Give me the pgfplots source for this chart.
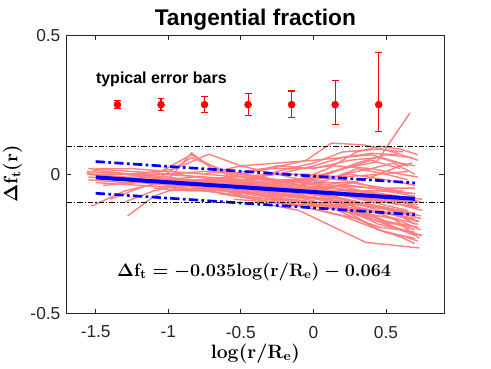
\RequirePackage{fix-cm}
\documentclass[border=0pt]{standalone}
\usepackage[no-math]{fontspec}
\setmainfont{Liberation Sans}
\usepackage{pgfplots}
\usepackage{pgfplotstable}
\pgfplotsset{compat=1.18}
\definecolor{axgray}{RGB}{38,38,38}
\definecolor{pinkline}{RGB}{255,128,128}
\pgfplotstableread{
x y ep em
-1.35 0.25 0.014 0.014
-1.05 0.25 0.021 0.021
-0.75 0.25 0.029 0.029
-0.45 0.25 0.039 0.039
-0.15 0.25 0.049 0.047
0.15 0.25 0.086 0.071
0.45 0.25 0.186 0.096
}\errtab
\pgfplotsset{pk/.style={pinkline, line width=1.05pt}}
\begin{document}
\boldmath
\begin{tikzpicture}
\path[use as bounding box] (0,0) rectangle (368.25pt,276pt);
\begin{axis}[
  name=ax,
  at={(50pt,41pt)}, anchor=south west,
  width=283pt, height=208.7pt, scale only axis,
  xmin=-1.7, xmax=0.9, ymin=-0.5, ymax=0.5,
  xtick={-1.5,-1,-0.5,0,0.5}, xticklabels={-1.5,-1,-0.5,0,0.5},
  ytick={-0.5,0,0.5}, yticklabels={-0.5,0,0.5},
  tick align=inside, major tick length=3.5pt,
  axis line style={axgray, line width=0.5pt},
  tick style={axgray, line width=0.5pt},
  ticklabel style={font=\fontsize{13}{15}\selectfont, text=axgray},
  xticklabel style={yshift=-6pt},
  yticklabel style={xshift=-1.2pt},
  every axis title shift=0pt,
  title={Tangential fraction},
  title style={font=\fontsize{17}{20}\selectfont\bfseries, at={(axis description cs:0.5,1)}, anchor=base, yshift=7.5pt, inner sep=0pt},
]
% individual profiles
\addplot[pk] coordinates {(-1.56,0.01) (-1.3,0.0) (-1.0,-0.02) (-0.7,-0.03) (-0.4,-0.04) (-0.1,-0.05) (0.2,-0.07) (0.5,-0.09) (0.72,-0.1)};
\addplot[pk] coordinates {(-1.55,0.02) (-1.25,0.01) (-0.95,0.0) (-0.65,-0.02) (-0.35,-0.03) (-0.05,-0.02) (0.25,-0.04) (0.55,-0.06) (0.7,-0.07)};
\addplot[pk] coordinates {(-1.55,-0.01) (-1.3,-0.02) (-1.05,-0.03) (-0.8,-0.04) (-0.55,-0.06) (-0.3,-0.07) (-0.05,-0.09) (0.2,-0.12) (0.45,-0.16) (0.7,-0.2)};
\addplot[pk] coordinates {(-1.53,-0.115) (-1.3,-0.06) (-1.05,-0.03) (-0.8,-0.02) (-0.55,-0.03) (-0.3,-0.05) (-0.05,-0.08) (0.2,-0.1) (0.45,-0.12) (0.68,-0.15)};
\addplot[pk] coordinates {(-1.28,-0.15) (-1.1,-0.08) (-0.9,-0.04) (-0.7,-0.03) (-0.5,-0.04) (-0.3,-0.06) (-0.1,-0.07) (0.1,-0.1) (0.3,-0.14) (0.5,-0.18) (0.7,-0.22)};
\addplot[pk] coordinates {(-1.4,-0.09) (-1.2,-0.05) (-1.0,-0.02) (-0.84,0.077) (-0.7,0.02) (-0.5,0.0) (-0.3,-0.02) (-0.1,-0.04) (0.1,-0.02) (0.3,0.02) (0.5,0.0) (0.65,-0.02)};
\addplot[pk] coordinates {(-1.5,0.0) (-1.2,0.0) (-0.95,0.02) (-0.72,0.072) (-0.5,0.03) (-0.25,0.0) (0.0,-0.03) (0.25,-0.05) (0.5,-0.08) (0.72,-0.12)};
\addplot[pk] coordinates {(-1.55,0.0) (-1.3,-0.01) (-1.05,-0.01) (-0.84,0.06) (-0.6,0.01) (-0.35,-0.01) (-0.1,-0.04) (0.15,-0.07) (0.4,-0.1) (0.65,-0.13)};
\addplot[pk] coordinates {(-1.0,-0.02) (-0.75,-0.03) (-0.5,-0.04) (-0.25,-0.03) (0.0,-0.01) (0.2,0.02) (0.435,0.044) (0.665,0.22)};
\addplot[pk] coordinates {(-0.9,-0.03) (-0.6,-0.01) (-0.3,0.02) (-0.05,0.05) (0.125,0.112) (0.35,0.105) (0.55,0.08) (0.72,0.05)};
\addplot[pk] coordinates {(-0.8,-0.04) (-0.5,-0.03) (-0.25,0.01) (0.0,0.04) (0.2,0.08) (0.45,0.09) (0.62,0.08)};
\addplot[pk] coordinates {(-1.0,-0.03) (-0.7,-0.04) (-0.4,-0.05) (-0.1,-0.03) (0.15,0.01) (0.4,0.05) (0.6,0.02)};
\addplot[pk] coordinates {(-1.2,-0.04) (-0.9,-0.05) (-0.6,-0.06) (-0.3,-0.08) (0.0,-0.1) (0.25,-0.14) (0.45,-0.2) (0.6,-0.22) (0.72,-0.24)};
\addplot[pk] coordinates {(-0.4,-0.1) (-0.1,-0.13) (0.1,-0.18) (0.36,-0.245) (0.73,-0.265)};
\addplot[pk] coordinates {(-1.5,-0.03) (-1.2,-0.04) (-0.9,-0.05) (-0.6,-0.07) (-0.3,-0.1) (-0.05,-0.11) (0.2,-0.13) (0.45,-0.17) (0.7,-0.19)};
\addplot[pk] coordinates {(-1.45,0.01) (-1.15,-0.01) (-0.85,-0.02) (-0.55,-0.03) (-0.25,-0.04) (0.05,-0.06) (0.35,-0.09) (0.6,-0.11) (0.75,-0.13)};
\addplot[pk] coordinates {(-1.56,0.005) (-1.3,-0.02) (-1.0,-0.04) (-0.7,-0.05) (-0.4,-0.06) (-0.1,-0.08) (0.2,-0.09) (0.5,-0.12) (0.74,-0.15)};
\addplot[pk] coordinates {(-1.3,-0.1) (-1.1,-0.06) (-0.85,-0.03) (-0.6,-0.02) (-0.35,-0.02) (-0.1,-0.03) (0.15,-0.04) (0.4,-0.05) (0.62,-0.06)};
\addplot[pk] coordinates {(-1.0,0.0) (-0.75,0.01) (-0.5,0.0) (-0.25,-0.02) (0.0,-0.02) (0.25,0.0) (0.5,-0.02) (0.7,-0.04)};
\addplot[pk] coordinates {(-0.7,-0.05) (-0.45,-0.08) (-0.2,-0.1) (0.05,-0.13) (0.3,-0.16) (0.5,-0.21) (0.7,-0.23)};
\addplot[pk] coordinates {(-0.6,-0.06) (-0.35,-0.08) (-0.1,-0.1) (0.15,-0.12) (0.4,-0.15) (0.6,-0.2) (0.75,-0.22)};
\addplot[pk] coordinates {(-1.2,-0.01) (-0.95,-0.02) (-0.7,-0.02) (-0.45,-0.03) (-0.2,-0.05) (0.05,-0.06) (0.3,-0.07) (0.55,-0.08) (0.75,-0.09)};
\addplot[pk] coordinates {(-0.5,-0.02) (-0.25,0.0) (0.0,0.03) (0.2,0.06) (0.4,0.07) (0.6,0.04) (0.7,0.03)};
\addplot[pk] coordinates {(-0.3,-0.04) (-0.1,-0.02) (0.1,0.0) (0.3,0.04) (0.5,0.07) (0.68,0.06)};
\addplot[pk] coordinates {(-0.2,-0.06) (0.0,-0.05) (0.2,-0.04) (0.4,-0.01) (0.6,0.03) (0.68,0.04)};
\addplot[pk] coordinates {(-1.4,-0.02) (-1.1,-0.02) (-0.8,-0.03) (-0.5,-0.05) (-0.2,-0.07) (0.1,-0.09) (0.4,-0.11) (0.7,-0.14)};
\addplot[pk] coordinates {(-1.35,0.0) (-1.05,0.0) (-0.75,-0.01) (-0.45,-0.02) (-0.15,-0.04) (0.15,-0.06) (0.45,-0.06) (0.7,-0.07)};
\addplot[pk] coordinates {(-0.9,-0.05) (-0.6,-0.07) (-0.3,-0.09) (0.0,-0.1) (0.25,-0.12) (0.5,-0.14) (0.72,-0.17)};
\addplot[pk] coordinates {(-0.45,-0.07) (-0.2,-0.08) (0.05,-0.09) (0.3,-0.11) (0.55,-0.13) (0.74,-0.16)};
\addplot[pk] coordinates {(-1.5,0.02) (-1.25,0.02) (-1.0,0.01) (-0.75,0.0) (-0.5,-0.01) (-0.25,-0.02) (0.0,-0.03) (0.25,-0.03) (0.5,-0.05) (0.7,-0.05)};
\addplot[pk] coordinates {(-0.6,0.0) (-0.35,0.02) (-0.1,0.02) (0.15,0.03) (0.4,0.02) (0.6,0.0) (0.72,-0.01)};
\addplot[pk] coordinates {(-0.35,-0.05) (-0.1,-0.04) (0.15,-0.05) (0.4,-0.08) (0.6,-0.1) (0.72,-0.11)};
\addplot[pk] coordinates {(0.0,-0.08) (0.2,-0.11) (0.4,-0.16) (0.55,-0.19) (0.7,-0.21)};
\addplot[pk] coordinates {(-0.1,-0.06) (0.1,-0.08) (0.3,-0.1) (0.5,-0.12) (0.7,-0.18)};
\addplot[pk] coordinates {(-1.45,-0.04) (-1.2,-0.03) (-0.95,-0.04) (-0.7,-0.05) (-0.45,-0.06) (-0.2,-0.06) (0.05,-0.07) (0.3,-0.08) (0.55,-0.1) (0.72,-0.1)};
\addplot[pk] coordinates {(-0.8,-0.02) (-0.55,-0.01) (-0.3,0.0) (-0.05,0.0) (0.2,-0.01) (0.45,0.0) (0.65,0.01)};
\addplot[pk] coordinates {(-0.75,0.0) (-0.5,0.03) (-0.25,0.04) (0.0,0.05) (0.2,0.06) (0.4,0.075) (0.58,0.07)};
\addplot[pk] coordinates {(-0.1,-0.02) (0.1,0.02) (0.3,0.08) (0.45,0.1) (0.6,0.09) (0.72,0.07)};
\addplot[pk] coordinates {(-1.1,-0.05) (-0.85,-0.06) (-0.6,-0.06) (-0.35,-0.07) (-0.1,-0.08) (0.15,-0.1) (0.4,-0.13) (0.65,-0.18) (0.74,-0.2)};
\addplot[pk] coordinates {(-0.55,-0.09) (-0.3,-0.1) (-0.05,-0.12) (0.2,-0.15) (0.45,-0.2) (0.6,-0.225) (0.7,-0.25)};
\addplot[pk] coordinates {(-1.56,0.0) (-1.35,-0.01) (-1.1,-0.02) (-0.85,-0.02) (-0.6,-0.04) (-0.35,-0.05) (-0.1,-0.06) (0.15,-0.08) (0.4,-0.11) (0.65,-0.14)};
\addplot[pk] coordinates {(-1.55,-0.02) (-1.3,-0.03) (-1.05,-0.02) (-0.8,-0.01) (-0.55,-0.02) (-0.3,-0.04) (-0.05,-0.07) (0.2,-0.09) (0.45,-0.13) (0.7,-0.16)};
\addplot[pk] coordinates {(-1.52,0.015) (-1.25,0.0) (-1.0,-0.01) (-0.75,-0.03) (-0.5,-0.05) (-0.25,-0.06) (0.0,-0.06) (0.25,-0.08) (0.5,-0.1) (0.73,-0.12)};
\addplot[pk] coordinates {(-0.3,-0.08) (-0.05,-0.1) (0.2,-0.12) (0.45,-0.18) (0.7,-0.21)};
\addplot[pk] coordinates {(0.1,-0.09) (0.3,-0.12) (0.5,-0.17) (0.72,-0.19)};
\addplot[pk] coordinates {(-0.15,-0.09) (0.1,-0.11) (0.35,-0.14) (0.55,-0.16) (0.73,-0.23)};
\addplot[pk] coordinates {(-0.65,-0.07) (-0.4,-0.09) (-0.15,-0.11) (0.1,-0.12) (0.35,-0.13) (0.6,-0.15) (0.73,-0.17)};
\addplot[pk] coordinates {(-1.15,-0.03) (-0.9,-0.03) (-0.65,-0.04) (-0.4,-0.04) (-0.15,-0.05) (0.1,-0.05) (0.35,-0.06) (0.6,-0.08) (0.74,-0.1)};
\addplot[pk] coordinates {(-1.3,0.0) (-1.05,0.01) (-0.84,0.07) (-0.6,0.0) (-0.35,-0.02) (-0.1,-0.03) (0.15,-0.05) (0.4,-0.07) (0.65,-0.09)};
\addplot[pk] coordinates {(-0.5,0.0) (-0.25,0.03) (0.0,0.02) (0.25,0.05) (0.45,0.06) (0.65,0.03)};
\addplot[pk] coordinates {(0.2,0.0) (0.4,0.02) (0.55,0.04) (0.7,0.0)};
\addplot[pk] coordinates {(-0.2,-0.03) (0.05,-0.01) (0.3,-0.03) (0.5,-0.06) (0.7,-0.08)};
\addplot[pk] coordinates {(-1.0,-0.06) (-0.75,-0.05) (-0.5,-0.06) (-0.25,-0.09) (0.0,-0.11) (0.25,-0.11) (0.5,-0.15) (0.72,-0.18)};
\addplot[pk] coordinates {(0.05,-0.1) (0.25,-0.15) (0.45,-0.19) (0.6,-0.2) (0.74,-0.22)};
% fit
\addplot[blue, line width=3pt] coordinates {(-1.5,-0.0115) (0.7,-0.0885)};
\addplot[blue, line width=2pt, dash pattern=on 7pt off 2.5pt on 2pt off 2.5pt] coordinates {(-1.5,0.0455) (0.7,-0.0315)};
\addplot[blue, line width=2pt, dash pattern=on 7pt off 2.5pt on 2pt off 2.5pt] coordinates {(-1.5,-0.0685) (0.7,-0.1455)};
% reference lines
\addplot[black, line width=0.5pt, dash pattern=on 4pt off 1.5pt on 1pt off 1.5pt] coordinates {(-1.7,0.1) (0.9,0.1)};
\addplot[black, line width=0.5pt, dash pattern=on 4pt off 1.5pt on 1pt off 1.5pt] coordinates {(-1.7,-0.1) (0.9,-0.1)};
% typical error bars
\addplot[red, only marks, mark=*, mark size=2.6pt,
  error bars/.cd, y dir=both, y explicit,
  error bar style={line width=0.8pt, red},
  error mark options={rotate=90, mark size=2.6pt, line width=0.8pt, red}]
  table[x=x, y=y, y error plus=ep, y error minus=em] {\errtab};
\end{axis}
% axis labels and annotations (axis box 283pt x 208.7pt at (50pt,41pt))
\node[anchor=base, inner sep=0pt, font=\fontsize{14.5}{16}\selectfont] at (191.5pt,7.5pt) {$\mathbf{log(r/R_e)}$};
\node[anchor=center, inner sep=0pt, rotate=90, font=\fontsize{14.5}{16}\selectfont] at (9.4pt,145.5pt) {$\mathbf{\Delta f_t(r)}$};
\node[anchor=base west, inner sep=0pt, font=\fontsize{12}{14}\selectfont\bfseries] at (71.8pt,213.4pt) {typical error bars};
\node[anchor=base, inner sep=0pt, font=\fontsize{13.5}{16}\selectfont] at (190.6pt,69.0pt) {$\mathbf{\Delta f_t = -0.035 log(r/R_e) - 0.064}$};
\end{tikzpicture}
\end{document}
